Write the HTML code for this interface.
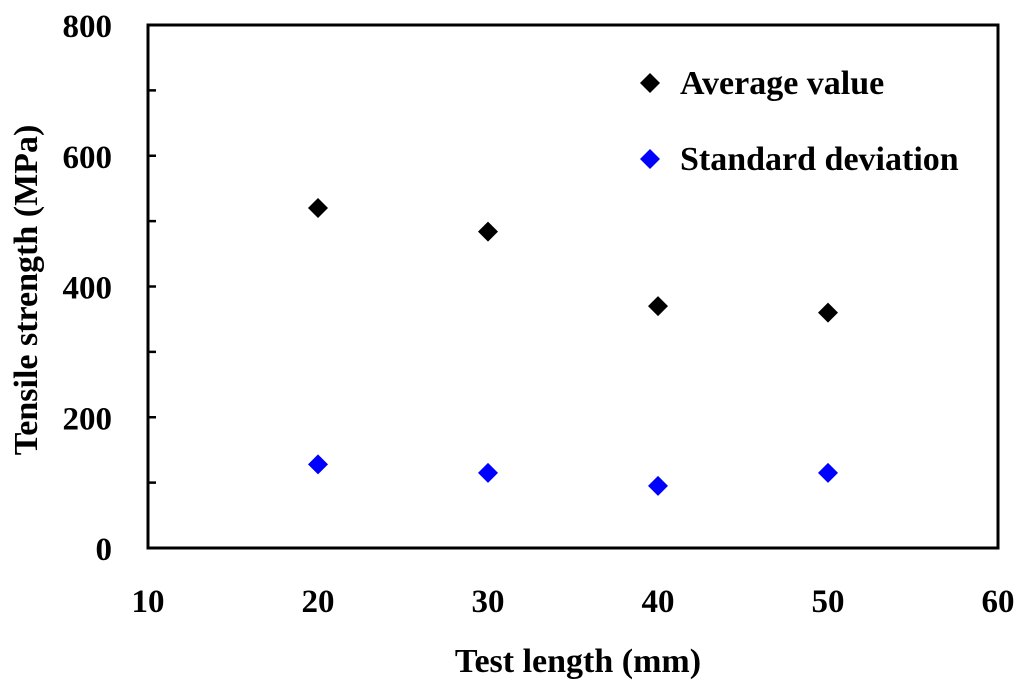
<!DOCTYPE html>
<html><head><meta charset="utf-8"><style>
body{margin:0;background:#fff;}
svg text{font-family:"Liberation Serif",serif;font-weight:bold;fill:#000;}
</style></head><body>
<svg width="1024" height="690">
<g id="axes"></g><g id="marks"></g>
<text x="578" y="672" font-size="34" text-anchor="middle">Test length (mm)</text>
<text transform="translate(37,290) rotate(-90)" font-size="34" text-anchor="middle">Tensile strength (MPa)</text>
<g>
<path d="M650,73 L660,83 L650,93 L640,83 Z" fill="#000"/>
<text x="680" y="94" font-size="34">Average value</text>
<path d="M650,149 L660,159 L650,169 L640,159 Z" fill="#0000ff"/>
<text x="680" y="170" font-size="34">Standard deviation</text>
</g>
</svg>
<script>
const categories=[20,30,40,50];
const averageValues=[520,484,370,360];
const stdValues=[128,115,95,115];
const xTicks=[10,20,30,40,50,60];
const yTicks=[0,200,400,600,800];
const X0=148,X1=998,Y0=548,Y1=25;
const xs=v=>X0+(v-10)/50*(X1-X0);
const ys=v=>Y0-v/800*(Y0-Y1);
const NS="http://www.w3.org/2000/svg";
const axes=document.getElementById('axes'),marks=document.getElementById('marks');
function mk(t,a,p){const e=document.createElementNS(NS,t);for(const k in a)e.setAttribute(k,a[k]);p.appendChild(e);return e;}
const frame=mk('rect',{x:X0,y:Y1,width:X1-X0,height:Y0-Y1,fill:'none',stroke:'#000','stroke-width':3},axes);


for(let v=0;v<=800;v+=100){const t=mk('line',{x1:X0,x2:X0+8,y1:ys(v),y2:ys(v),stroke:'#000','stroke-width':2.5},axes);

}
yTicks.forEach(v=>{const t=mk('text',{x:X0-36,y:ys(v)+12,'font-size':33,'text-anchor':'end'},axes);t.textContent=v;

});
xTicks.forEach(v=>{const t=mk('text',{x:xs(v),y:Y0+64,'font-size':33,'text-anchor':'middle'},axes);t.textContent=v;

});
function dia(x,y){return `M${x},${y-10} L${x+10},${y} L${x},${y+10} L${x-10},${y} Z`;}
categories.forEach((c,i)=>{
const a=mk('path',{d:dia(xs(c),ys(averageValues[i])),fill:'#000'},marks);


const s=mk('path',{d:dia(xs(c),ys(stdValues[i])),fill:'#0000ff'},marks);


});
</script>
</body></html>
